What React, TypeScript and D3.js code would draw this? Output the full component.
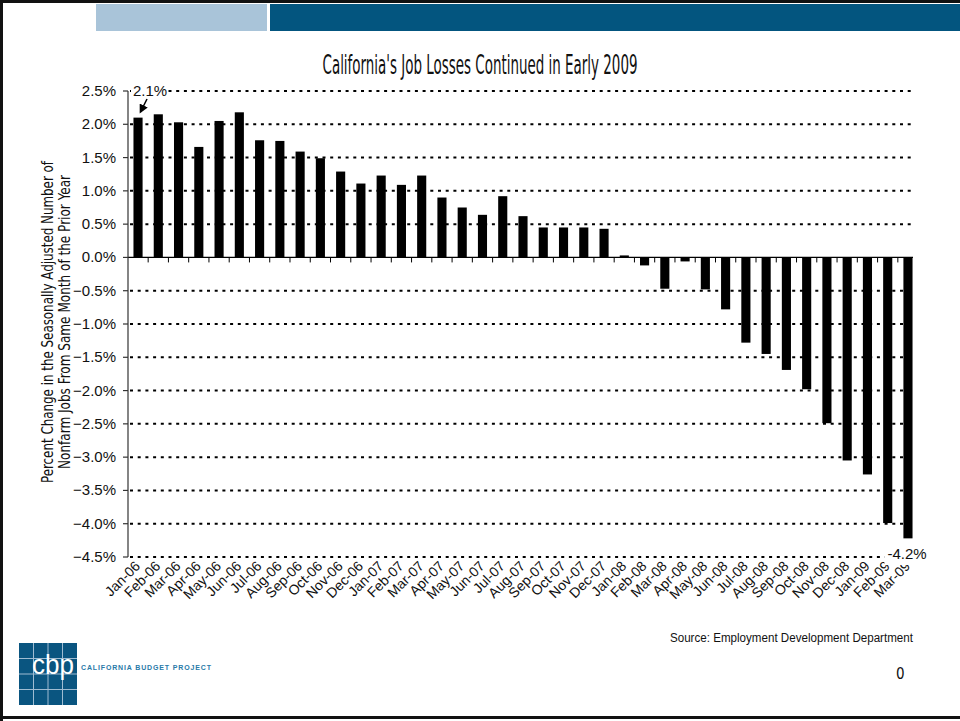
import React, { useEffect } from "react";
import * as d3 from "d3";

const months = [
  "Jan-06","Feb-06","Mar-06","Apr-06","May-06","Jun-06","Jul-06","Aug-06","Sep-06","Oct-06","Nov-06","Dec-06",
  "Jan-07","Feb-07","Mar-07","Apr-07","May-07","Jun-07","Jul-07","Aug-07","Sep-07","Oct-07","Nov-07","Dec-07",
  "Jan-08","Feb-08","Mar-08","Apr-08","May-08","Jun-08","Jul-08","Aug-08","Sep-08","Oct-08","Nov-08","Dec-08",
  "Jan-09","Feb-09","Mar-09",
];

const pctChange = [
  2.1, 2.15, 2.03, 1.66, 2.05, 2.18, 1.76, 1.75, 1.59, 1.49, 1.29, 1.11,
  1.23, 1.09, 1.23, 0.9, 0.75, 0.64, 0.92, 0.62, 0.45, 0.45, 0.45, 0.43,
  0.03, -0.12, -0.47, -0.06, -0.48, -0.78, -1.28, -1.45, -1.69, -1.98, -2.49, -3.05,
  -3.26, -3.99, -4.22,
];

const yTicks = [2.5, 2.0, 1.5, 1.0, 0.5, 0.0, -0.5, -1.0, -1.5, -2.0, -2.5, -3.0, -3.5, -4.0, -4.5];

const titleText = "California's Job Losses Continued in Early 2009";
const yTitleLines = [
  "Percent Change in the Seasonally Adjusted Number of",
  "Nonfarm Jobs From Same Month of the Prior Year",
];
const sourceText = "Source: Employment Development Department";
const firstLabel = "2.1%";
const lastLabel = "-4.2%";

const W = 960;
const H = 721;
const plot = { left: 128, right: 918, top: 91, bottom: 557 };
const narrow = "'Liberation Sans Narrow', 'DejaVu Sans Condensed', 'Roboto Condensed', Arial, sans-serif";
const sans = "'Liberation Sans', Arial, Helvetica, sans-serif";

export default function App() {
  useEffect(() => {
    document.body.style.margin = "0";
  }, []);

  const x = d3.scaleBand<string>().domain(months).range([plot.left, plot.right]).paddingInner(0.55).paddingOuter(0.27);
  const y = d3.scaleLinear().domain([-4.5, 2.5]).range([plot.bottom, plot.top]);
  const step = x.step();
  const boundaries = d3.range(1, months.length).map((i) => x(months[0])! - (step * x.paddingInner()) / 2 + i * step);

  const gridRight = 913;
  const lastX = x(months[months.length - 1])!;

  return (
    <div style={{ position: "absolute", left: 0, top: 0 }}>
      <svg width={W} height={H} style={{ display: "block", background: "#fff" }}>
        {/* page frame */}
        <rect x={0} y={0} width={W} height={H} fill="#fff" />
        <rect x={0} y={0} width={W} height={3} fill="#111" />
        <rect x={0} y={0} width={3} height={H} fill="#111" />
        <rect x={0} y={716} width={W} height={3} fill="#111" />

        {/* banner */}
        <rect x={96} y={4} width={171} height={27} fill="#A9C4D9" />
        <rect x={270} y={4} width={690} height={27} fill="#03557F" />

        {/* title */}
        <text x={480} y={74} textAnchor="middle" fontFamily={narrow} fontSize={27} textLength={315} lengthAdjust="spacingAndGlyphs" fill="#111">
          {titleText}
        </text>

        {/* gridlines */}
        {yTicks.filter((t) => t !== 0).map((t) => (
          <line key={t} x1={plot.left + 2} x2={gridRight} y1={y(t)} y2={y(t)} stroke="#000" strokeWidth={2} strokeDasharray="3,4.7" />
        ))}

        {/* bars */}
        {pctChange.map((v, i) => (
          <rect key={months[i]} x={x(months[i])} width={x.bandwidth()} y={y(Math.max(0, v))} height={Math.abs(y(v) - y(0))} fill="#000" />
        ))}

        {/* zero line and category ticks */}
        <line x1={plot.left} x2={gridRight} y1={y(0)} y2={y(0)} stroke="#000" strokeWidth={1.2} />
        {boundaries.map((b, i) => (
          <line key={i} x1={b} x2={b} y1={y(0)} y2={y(0) + 5} stroke="#000" strokeWidth={1} />
        ))}

        {/* y axis */}
        <line x1={plot.left} x2={plot.left} y1={plot.top} y2={plot.bottom} stroke="#333" strokeWidth={1.2} />
        {yTicks.map((t) => (
          <g key={t}>
            <line x1={plot.left - 5} x2={plot.left} y1={y(t)} y2={y(t)} stroke="#333" strokeWidth={1.2} />
            <text x={116} y={y(t) + 5} textAnchor="end" fontFamily={sans} fontSize={15} fill="#111">
              {d3.format(".1f")(t) + "%"}
            </text>
          </g>
        ))}

        {/* x labels */}
        {months.map((m) => {
          const cx = x(m)! + x.bandwidth() / 2 + 3;
          const cy = 567;
          return (
            <text key={m} x={cx} y={cy} transform={`rotate(-45 ${cx} ${cy})`} textAnchor="end" fontFamily={sans} fontSize={14} fill="#111">
              {m}
            </text>
          );
        })}

        {/* y title */}
        <text transform={`translate(53,322) rotate(-90)`} textAnchor="middle" fontFamily={narrow} fontSize={16} textLength={322} lengthAdjust="spacingAndGlyphs" fill="#111">
          {yTitleLines[0]}
        </text>
        <text transform={`translate(70,322) rotate(-90)`} textAnchor="middle" fontFamily={narrow} fontSize={16} textLength={294} lengthAdjust="spacingAndGlyphs" fill="#111">
          {yTitleLines[1]}
        </text>

        {/* annotations */}
        <rect x={131} y={y(2.5) - 8} width={34} height={16} fill="#fff" />
        <text x={133} y={y(2.5) + 5} fontFamily={sans} fontSize={15} fill="#111">{firstLabel}</text>
        <defs>
          <marker id="arr" viewBox="0 0 10 10" refX="8" refY="5" markerWidth="6" markerHeight="6" orient="auto-start-reverse">
            <path d="M0,0 L10,5 L0,10 z" fill="#000" />
          </marker>
        </defs>
        <line x1={147} y1={99} x2={140.5} y2={112} stroke="#000" strokeWidth={1.5} markerEnd="url(#arr)" />

        <rect x={lastX - 19} y={y(-4.5) - 8} width={42} height={16} fill="#fff" />
        <text x={lastX - 16} y={y(-4.5) + 2} fontFamily={sans} fontSize={15} fill="#111">{lastLabel}</text>

        {/* source and page number */}
        <g transform="translate(913,642) scale(0.86,1)">
          <text x={0} y={0} textAnchor="end" fontFamily={sans} fontSize={13.5} fill="#111">
            {sourceText}
          </text>
        </g>
        <text x={896} y={679} fontFamily={narrow} fontSize={15} fill="#111">0</text>

        {/* logo */}
        <g>
          <rect x={19} y={643} width={58} height={62} fill="#0A5580" />
          {[1, 2, 3].map((k) => (
            <g key={k}>
              <line x1={19 + (58 / 4) * k} x2={19 + (58 / 4) * k} y1={643} y2={705} stroke="#9FBCD2" strokeWidth={1} />
              <line x1={19} x2={77} y1={643 + (62 / 4) * k} y2={643 + (62 / 4) * k} stroke="#9FBCD2" strokeWidth={1} />
            </g>
          ))}
          <text x={53} y={674} textAnchor="middle" fontFamily={sans} fontSize={27} fill="#fff" textLength={42} lengthAdjust="spacingAndGlyphs" fontWeight={300}>
            cbp
          </text>
          <text x={81} y={670} fontFamily={sans} fontSize={7} fontWeight="bold" fill="#2A7AA8" textLength={130} lengthAdjust="spacing">
            CALIFORNIA BUDGET PROJECT
          </text>
        </g>
      </svg>
    </div>
  );
}
